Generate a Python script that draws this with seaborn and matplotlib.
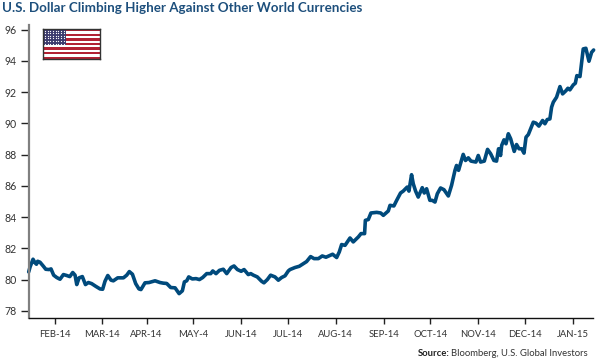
import pandas as pd
import numpy as np
import matplotlib
matplotlib.use("Agg")
import matplotlib.pyplot as plt
import matplotlib.dates as mdates
from matplotlib.patches import Rectangle
import seaborn as sns

# days counted from 2014-01-01
days = [14.0, 14.9, 16.8, 18.1, 19.0, 19.8, 21.3, 23.5, 25.0, 27.1, 28.4, 30.1, 32.1, 34.2, 36.4,
        38.5, 40.5, 42.4, 43.9, 45.0, 46.5, 48.6, 50.6, 52.5, 54.6, 57.2, 60.0, 61.7, 63.2, 65.0,
        67.1, 68.6, 71.4, 75.1, 77.2, 78.9, 80.9, 83.0, 85.1, 86.4, 89.0, 91.6, 95.5, 98.7,
        100.8, 103.0, 105.6, 108.4, 111.0, 113.1, 114.4, 115.9, 117.2, 119.5, 121.9, 124.1, 126.2,
        128.8, 131.4, 132.7, 134.8, 137.0, 139.5, 141.7, 144.5, 146.4, 148.6, 151.0, 152.9, 155.6,
        157.2, 158.9, 161.4, 164.2, 165.7, 167.9, 170.0, 172.8, 175.0, 177.1, 179.3, 181.4,
        182.5, 185.7, 188.5, 191.1, 193.2, 195.8, 198.0, 200.8, 203.3, 205.7, 210.0, 212.6, 214.3,
        215.8, 218.0, 221.2, 223.3, 226.6, 228.3, 230.6, 231.1, 233.0, 234.7, 238.4, 241.0, 242.7,
        245.9, 247.0, 249.5, 251.3, 253.8,
        255.5, 258.1, 259.2, 260.9, 262.0, 263.5, 265.2, 267.8, 269.1, 270.6, 272.7, 274.2, 276.0,
        277.5, 279.6, 281.8, 284.6, 286.7, 288.9, 289.9, 291.2, 294.2, 295.7, 297.5, 299.2, 302.4,
        303.9, 305.4, 307.8, 309.9, 311.9, 314.0, 315.7, 317.0, 318.3,
        319.0, 320.5, 321.8, 323.3, 324.8, 327.1, 328.6, 330.2, 331.9, 333.4, 334.7, 336.2, 337.7,
        339.4, 341.1, 343.0, 345.4, 346.9, 348.4, 350.1, 351.2, 352.3, 354.4, 356.6, 358.3, 360.5,
        361.7, 363.0, 365.2, 366.5, 367.5, 369.5, 371.6, 373.3, 375.3, 377.0, 378.3]

dollar = [80.50, 80.82, 81.31, 81.08, 80.99, 81.18, 81.12, 80.86, 80.67, 80.65, 80.69, 80.29, 80.14, 80.03, 80.33,
          80.27, 80.20, 80.46, 80.29, 79.69, 80.12, 80.20, 79.69, 79.82, 79.75, 79.58, 79.41, 79.39, 79.90, 80.27,
          79.97, 79.93, 80.12, 80.12, 80.29, 80.52, 80.35, 79.75, 79.41, 79.37, 79.80, 79.82, 79.93, 79.82,
          79.78, 79.76, 79.50, 79.48, 79.11, 79.29, 79.86, 79.93, 80.18, 80.05, 80.07, 80.01, 80.14,
          80.39, 80.39, 80.56, 80.39, 80.60, 80.67, 80.39, 80.78, 80.88, 80.65, 80.54, 80.65, 80.33,
          80.39, 80.29, 80.18, 79.90, 79.80, 80.01, 80.29, 80.18, 79.97, 80.14, 80.25, 80.56,
          80.65, 80.78, 80.86, 81.03, 81.16, 81.48, 81.35, 81.35, 81.52, 81.44, 81.63, 81.42, 81.78,
          82.25, 82.20, 82.67, 82.42, 82.74, 82.95, 82.95, 83.80, 83.85, 84.27, 84.31, 84.27, 84.12,
          84.40, 84.76, 84.72, 85.08, 85.55,
          85.67, 85.93, 85.67, 86.72, 86.14, 85.67, 85.29, 85.89, 85.55, 85.82, 85.08, 85.08, 84.97,
          85.50, 85.87, 85.76, 85.36, 86.04, 87.00, 87.31, 87.00, 88.02, 87.63, 87.80, 87.59, 87.53,
          87.95, 87.53, 87.59, 88.34, 88.06, 87.63, 87.59, 88.38, 87.95,
          88.59, 88.95, 88.70, 89.34, 89.02, 88.21, 88.65, 88.38, 88.38, 88.10, 89.12, 89.29, 89.66,
          90.08, 90.02, 89.83, 90.19, 89.98, 90.25, 90.29, 91.04, 91.36, 91.68, 92.36, 91.89, 92.10,
          92.25, 92.15, 92.47, 92.57, 93.06, 93.00, 94.77, 94.81, 93.98, 94.55, 94.70]

tick_dates = ["2014-02-01", "2014-03-03", "2014-04-01", "2014-05-01", "2014-06-01", "2014-07-01",
              "2014-08-01", "2014-09-01", "2014-10-01", "2014-11-01", "2014-12-01", "2015-01-01"]
tick_labels = ["FEB-14", "MAR-14", "APR-14", "MAY-4", "JUN-14", "JUL-14",
               "AUG-14", "SEP-14", "OCT-14", "NOV-14", "DEC-14", "JAN-15"]
y_ticks = [78, 80, 82, 84, 86, 88, 90, 92, 94, 96]

df = pd.DataFrame({
    "date": pd.Timestamp("2014-01-01") + pd.to_timedelta(days, unit="D"),
    "dollar": dollar
})

sns.set_style("white")
plt.rcParams["font.family"] = ["Lato", "DejaVu Sans"]

W, H = 600, 361
fig = plt.figure(figsize=(6, 3.61), dpi=100)
ax = fig.add_axes([29 / W, 1 - 318 / H, (593 - 29) / W, (318 - 25) / H])

sns.lineplot(data=df, x="date", y="dollar", color="#004a7c", linewidth=2.6, ax=ax,
             errorbar=None, clip_on=False, solid_joinstyle="round")

ax.set_xlim(pd.Timestamp("2014-01-01") + pd.Timedelta(days=14.2),
            pd.Timestamp("2014-01-01") + pd.Timedelta(days=377.9))
ax.set_ylim(77.55, 96.3)
ax.set_xlabel("")
ax.set_ylabel("")

ax.set_xticks(mdates.date2num(pd.to_datetime(tick_dates)))
ax.set_xticklabels(tick_labels)
ax.set_yticks(y_ticks)
ax.tick_params(axis="x", length=4.5, width=1, color="#222222", labelsize=6.8, labelcolor="#333333", pad=4, bottom=True)
ax.tick_params(axis="y", length=6, width=1, color="#222222", labelsize=7.6, labelcolor="#333333", pad=2.8, left=True)

sns.despine(ax=ax)
ax.spines["left"].set_color("#808080")
ax.spines["left"].set_linewidth(1.6)
ax.spines["bottom"].set_color("#111111")
ax.spines["bottom"].set_linewidth(1)

fig.text(2 / W, 1 - 8 / H, "U.S. Dollar Climbing Higher Against Other World Currencies",
         fontsize=9.6, fontweight="bold", color="#1d4f7c", va="center", ha="left")
src = fig.text(588 / W, 1 - 353 / H, "Bloomberg, U.S. Global Investors", fontsize=6.8,
               color="#333333", va="center", ha="right")
fig.canvas.draw()
box = src.get_window_extent()
fig.text(box.x0 / W - 2 / W, 1 - 353 / H, "Source:", fontsize=6.8, fontweight="bold",
         color="#222222", va="center", ha="right")

# flag
flag = fig.add_axes([43 / W, 1 - 59 / H, 57 / W, 30 / H])
flag.set_xlim(0, 1)
flag.set_ylim(13, 0)
flag.set_xticks([])
flag.set_yticks([])
for i in range(13):
    flag.axhspan(i, i + 1, color="#b22234" if i % 2 == 0 else "white", lw=0)
flag.add_patch(Rectangle((0, 0), 0.4, 7, color="#3c3b6e", lw=0))
sx, sy = np.meshgrid(np.linspace(0.04, 0.36, 8), np.linspace(0.7, 6.3, 6))
flag.scatter(sx.ravel(), sy.ravel(), s=0.8, color="white", lw=0)
for s in flag.spines.values():
    s.set_color("#333333")
    s.set_linewidth(1)

fig.savefig("out.png", dpi=100)
